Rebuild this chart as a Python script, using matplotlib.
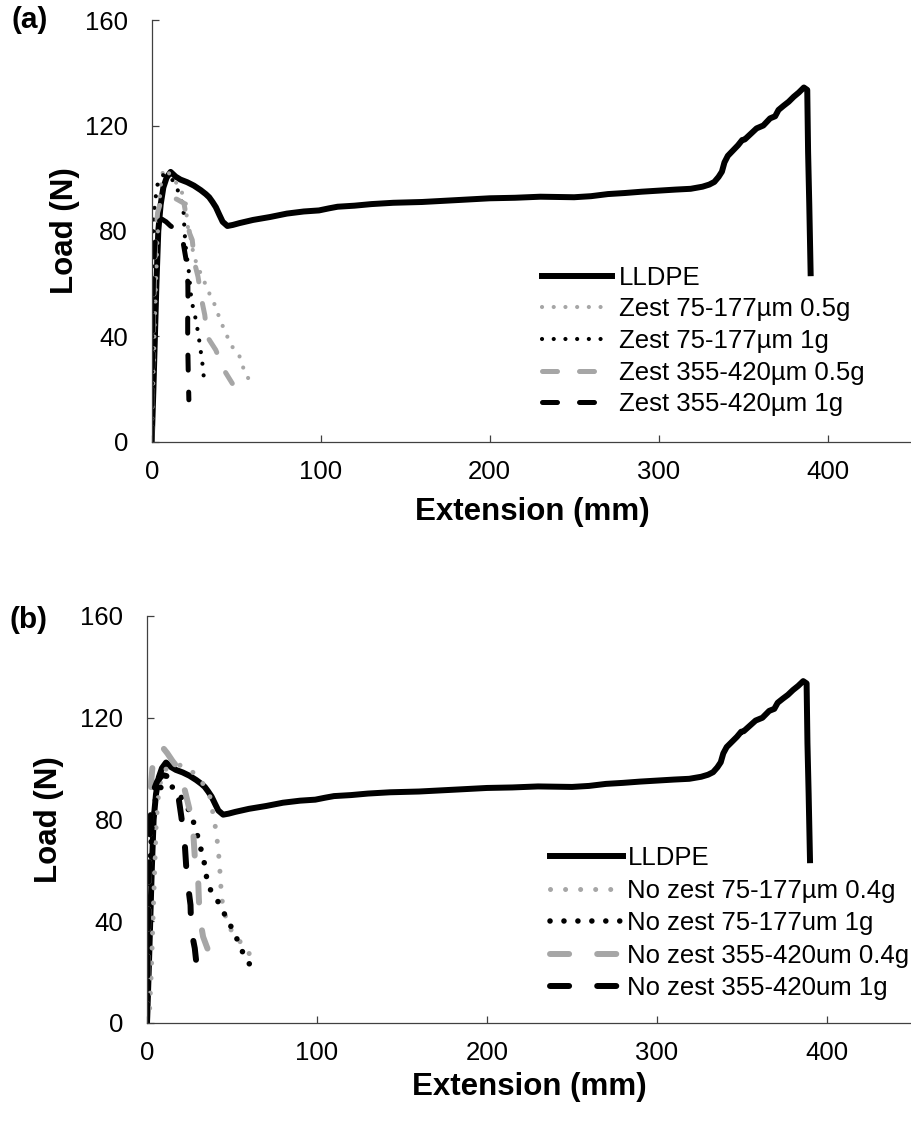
import matplotlib
matplotlib.use("Agg")
import matplotlib.pyplot as plt

plt.rcParams['font.family'] = ['Liberation Sans', 'DejaVu Sans']

GRAY = '#a6a6a6'

# LLDPE reference curve (same test in both panels)
lldpe_x = [0, 1.0, 1.9, 2.8, 3.9, 5.3, 6.9, 8.8, 11.2, 14.2, 17, 21, 25, 29, 32, 34, 36, 38,
           40, 42, 44.8, 48, 52, 60, 70, 80, 90, 99, 105, 110, 120, 130, 143, 160, 183, 200,
           215, 230, 250, 260, 270, 280, 290, 300, 310, 319, 326, 330, 333, 335.5, 337.5,
           339, 341, 344, 347, 349.5, 351, 354, 358, 362, 366, 369, 371, 374, 377, 380, 383,
           386, 388, 388.5, 389.2, 390]
lldpe_y = [0, 20, 40, 60, 80, 90, 96.5, 100.2, 102.4, 100.6, 99.5, 98.5, 97.2, 95.5, 94, 92.8,
           91, 89, 86.2, 83.5, 81.9, 82.3, 83.0, 84.2, 85.3, 86.6, 87.4, 87.8, 88.6, 89.2, 89.6,
           90.2, 90.7, 91.0, 91.8, 92.4, 92.6, 93.0, 92.8, 93.2, 94.0, 94.4, 94.9, 95.3, 95.7,
           96.0, 96.8, 97.6, 98.6, 100.5, 102.5, 106, 108.5, 110.5, 112.5, 114.5, 114.7, 116.5,
           118.9, 120, 122.7, 123.5, 125.9, 127.5, 129, 130.9, 132.5, 134.4, 133.5, 110, 90, 64]

# panel (a): zest samples
a_small05_x = [0, 0.6, 1.2, 1.8, 2.5, 3.3, 4.3, 5.5, 6.9, 9.5, 13.2, 17, 20.1, 21.1, 22.9, 25,
               29.6, 32.5, 34.9, 37.9, 39.8, 42.4, 44.8, 47.7, 51.7, 55.6, 60.5]
a_small05_y = [0, 15, 30, 45, 60, 75, 88, 98, 103.6, 102.5, 99.5, 96, 91.1, 82.3, 77.8, 70.3,
               62.9, 58.9, 55.1, 51.3, 47.5, 43.4, 39.9, 36.1, 33, 25.4, 21.6]
a_small1_x = [0, 0.2, 0.3, 0.5, 1.0, 1.4, 2.0, 2.9, 3.9, 6, 8.5, 10.5, 13.2, 16.2, 18.7, 19.5,
              20.5, 21.7, 23.5, 26.4, 28.4, 30, 31.4]
a_small1_y = [0, 20, 40, 70, 83, 87, 91, 95.5, 99.3, 101, 101.5, 100.5, 98.7, 94.3, 89.2, 79.1,
              71.5, 66.5, 53.8, 45.6, 37.4, 29.8, 21.0]
a_large05_x = [0, 0.5, 1, 1.6, 2.4, 3.5, 5.3, 8, 11.2, 15, 19.1, 21.1, 22.5, 24, 25.4, 27.4,
               29.6, 31.4, 32.9, 37.9, 42.8, 47.7]
a_large05_y = [0, 25, 45, 62, 78, 87, 91, 93, 93, 92, 90.5, 83.1, 79, 76.6, 67.8, 62.7, 53.8,
               48.2, 39.9, 34.9, 27.3, 22.2]
a_large1_x = [0, 0.3, 0.6, 1, 1.6, 2.6, 4, 6, 8.5, 11, 13.2, 16, 18.7, 20.7, 21.4, 21.5, 21.3,
              21.3, 21.5, 21.7, 22]
a_large1_y = [0, 20, 40, 60, 72, 80, 83.5, 84.5, 83.5, 82, 81, 78.5, 75.3, 67.8, 60, 52, 46,
              38, 31, 24, 16]

# panel (b): no-zest samples
b_small04_x = [0, 1.5, 2.5, 3.5, 4.5, 5.4, 6.5, 8, 10.5, 14, 18, 22, 26, 29.1, 33, 37, 39.9,
               41.9, 43, 43.9, 46.5, 50.8, 56.7, 60.7, 64.6]
b_small04_y = [0, 5, 19.5, 40, 60, 78.5, 88, 95, 99.5, 101, 101.5, 101, 99, 97.5, 94, 89,
               78.5, 68.7, 58.8, 49, 41, 34.6, 30.7, 26.7, 22.8]
b_small1_x = [0, 0.5, 1, 1.5, 2.2, 3, 4, 5.6, 8, 12.3, 18.2, 22.2, 26.2, 28.1, 30.5, 32.1, 34,
              35, 37.4, 41.3, 44.9, 48.4, 52, 54.7, 58.1, 62.2]
b_small1_y = [0, 20, 40, 55, 68, 78, 85, 89.5, 92.5, 94.2, 90.9, 86.4, 81.8, 77.2, 71.9, 67.3,
              62.1, 57.5, 52.3, 48.3, 43.7, 39.2, 34.6, 30, 25.4, 21.2]
b_large04_x = [0, 0.5, 1, 1.6, 2.5, 3.5, 5, 7.4, 9.4, 12, 15, 19.2, 22.2, 25.1, 27.1, 28.1,
               30.1, 30.5, 31.1, 33, 36, 38.9]
b_large04_y = [0, 30, 55, 75, 95, 103, 106.5, 108.6, 108.2, 106, 103, 99.4, 91.6, 83.7, 75.9,
               65.4, 56.2, 49, 41.2, 33.9, 28.5, 24.1]
b_large1_x = [0, 0.3, 0.8, 1.5, 2.5, 4, 6, 9, 12, 15, 18.2, 20.2, 22.2, 23.2, 24.1, 25.6, 26.0,
              28.1, 29.7]
b_large1_y = [0, 25, 50, 70, 86, 91.6, 95, 97.5, 97, 94, 90.3, 81.1, 70.6, 60.1, 54.2, 46.4,
              36.6, 29.4, 19.5]

labels_a = ['LLDPE', 'Zest 75-177\u00b5m 0.5g', 'Zest 75-177\u00b5m 1g',
            'Zest 355-420\u00b5m 0.5g', 'Zest 355-420\u00b5m 1g']
labels_b = ['LLDPE', 'No zest 75-177\u00b5m 0.4g', 'No zest 75-177um 1g',
            'No zest 355-420um 0.4g', 'No zest 355-420um 1g']

W, H = 912, 1145
fig = plt.figure(figsize=(W / 100, H / 100), dpi=100)


def px_axes(left, top, right, bottom):
    return fig.add_axes([left / W, 1 - bottom / H, (right - left) / W, (bottom - top) / H])


def style_axes(ax, ylabel_x, xlabel_y, left, top, bottom):
    ax.set_xlim(0, 450)
    ax.set_ylim(0, 160)
    ax.set_xticks([0, 100, 200, 300, 400])
    ax.set_yticks([0, 40, 80, 120, 160])
    for s in ['top', 'right']:
        ax.spines[s].set_visible(False)
    for s in ['left', 'bottom']:
        ax.spines[s].set_color('#404040')
        ax.spines[s].set_linewidth(0.9)
    ax.tick_params(axis='both', direction='in', length=5, width=0.9, color='#404040',
                   labelsize=18.5)
    ax.tick_params(axis='y', pad=17)
    ax.tick_params(axis='x', pad=13)
    ax.set_ylabel('Load (N)', fontsize=22.5, fontweight='bold', va='center')
    ax.yaxis.set_label_coords((ylabel_x - left) / (W - left), 0.5)
    ax.set_xlabel('Extension (mm)', fontsize=22.5, fontweight='bold', va='center')
    ax.xaxis.set_label_coords(0.5, (bottom - xlabel_y) / (bottom - top))


# ---- panel (a)
ax = px_axes(151.7, 20, 912, 442)
ax.plot(lldpe_x, lldpe_y, color='black', lw=4.3, solid_joinstyle='round', label=labels_a[0])
ax.plot(a_small05_x, a_small05_y, color=GRAY, lw=3.0, ls=(0, (0.01, 2.8)),
        dash_capstyle='round', label=labels_a[1])
ax.plot(a_small1_x, a_small1_y, color='black', lw=3.0, ls=(0, (0.01, 2.8)),
        dash_capstyle='round', label=labels_a[2])
ax.plot(a_large05_x, a_large05_y, color=GRAY, lw=3.6, ls=(0, (3, 4.4)),
        dash_capstyle='round', label=labels_a[3])
ax.plot(a_large1_x, a_large1_y, color='black', lw=3.6, ls=(0, (3, 4.4)),
        dash_capstyle='round', label=labels_a[4])
style_axes(ax, 65, 512, 151.7, 20, 442)
ax.legend(loc='upper left', bbox_to_anchor=(0.514, 0.418), frameon=False, fontsize=18.5,
          handlelength=2.72, handletextpad=0.27, labelspacing=0.3, borderpad=0,
          borderaxespad=0)
fig.text(12 / W, 1 - 20 / H, '(a)', fontsize=21.5, fontweight='bold', ha='left', va='center')

# ---- panel (b)
ax = px_axes(147, 616, 912, 1023)
ax.plot(lldpe_x, lldpe_y, color='black', lw=4.3, solid_joinstyle='round', label=labels_b[0])
ax.plot(b_small04_x, b_small04_y, color=GRAY, lw=3.6, ls=(0, (0.01, 3.0)),
        dash_capstyle='round', label=labels_b[1])
ax.plot(b_small1_x, b_small1_y, color='black', lw=4.0, ls=(0, (0.01, 2.5)),
        dash_capstyle='round', label=labels_b[2])
ax.plot(b_large04_x, b_large04_y, color=GRAY, lw=4.3, ls=(0, (3.2, 4.7)),
        dash_capstyle='round', label=labels_b[3])
ax.plot(b_large1_x, b_large1_y, color='black', lw=4.3, ls=(0, (3.2, 4.7)),
        dash_capstyle='round', label=labels_b[4])
style_axes(ax, 49, 1087, 147, 616, 1023)
ax.legend(loc='upper left', bbox_to_anchor=(0.527, 0.434), frameon=False, fontsize=18.5,
          handlelength=2.85, handletextpad=0.16, labelspacing=0.33, borderpad=0,
          borderaxespad=0)
fig.text(10 / W, 1 - 620 / H, '(b)', fontsize=21.5, fontweight='bold', ha='left', va='center')

fig.savefig('out.png', dpi=100)
